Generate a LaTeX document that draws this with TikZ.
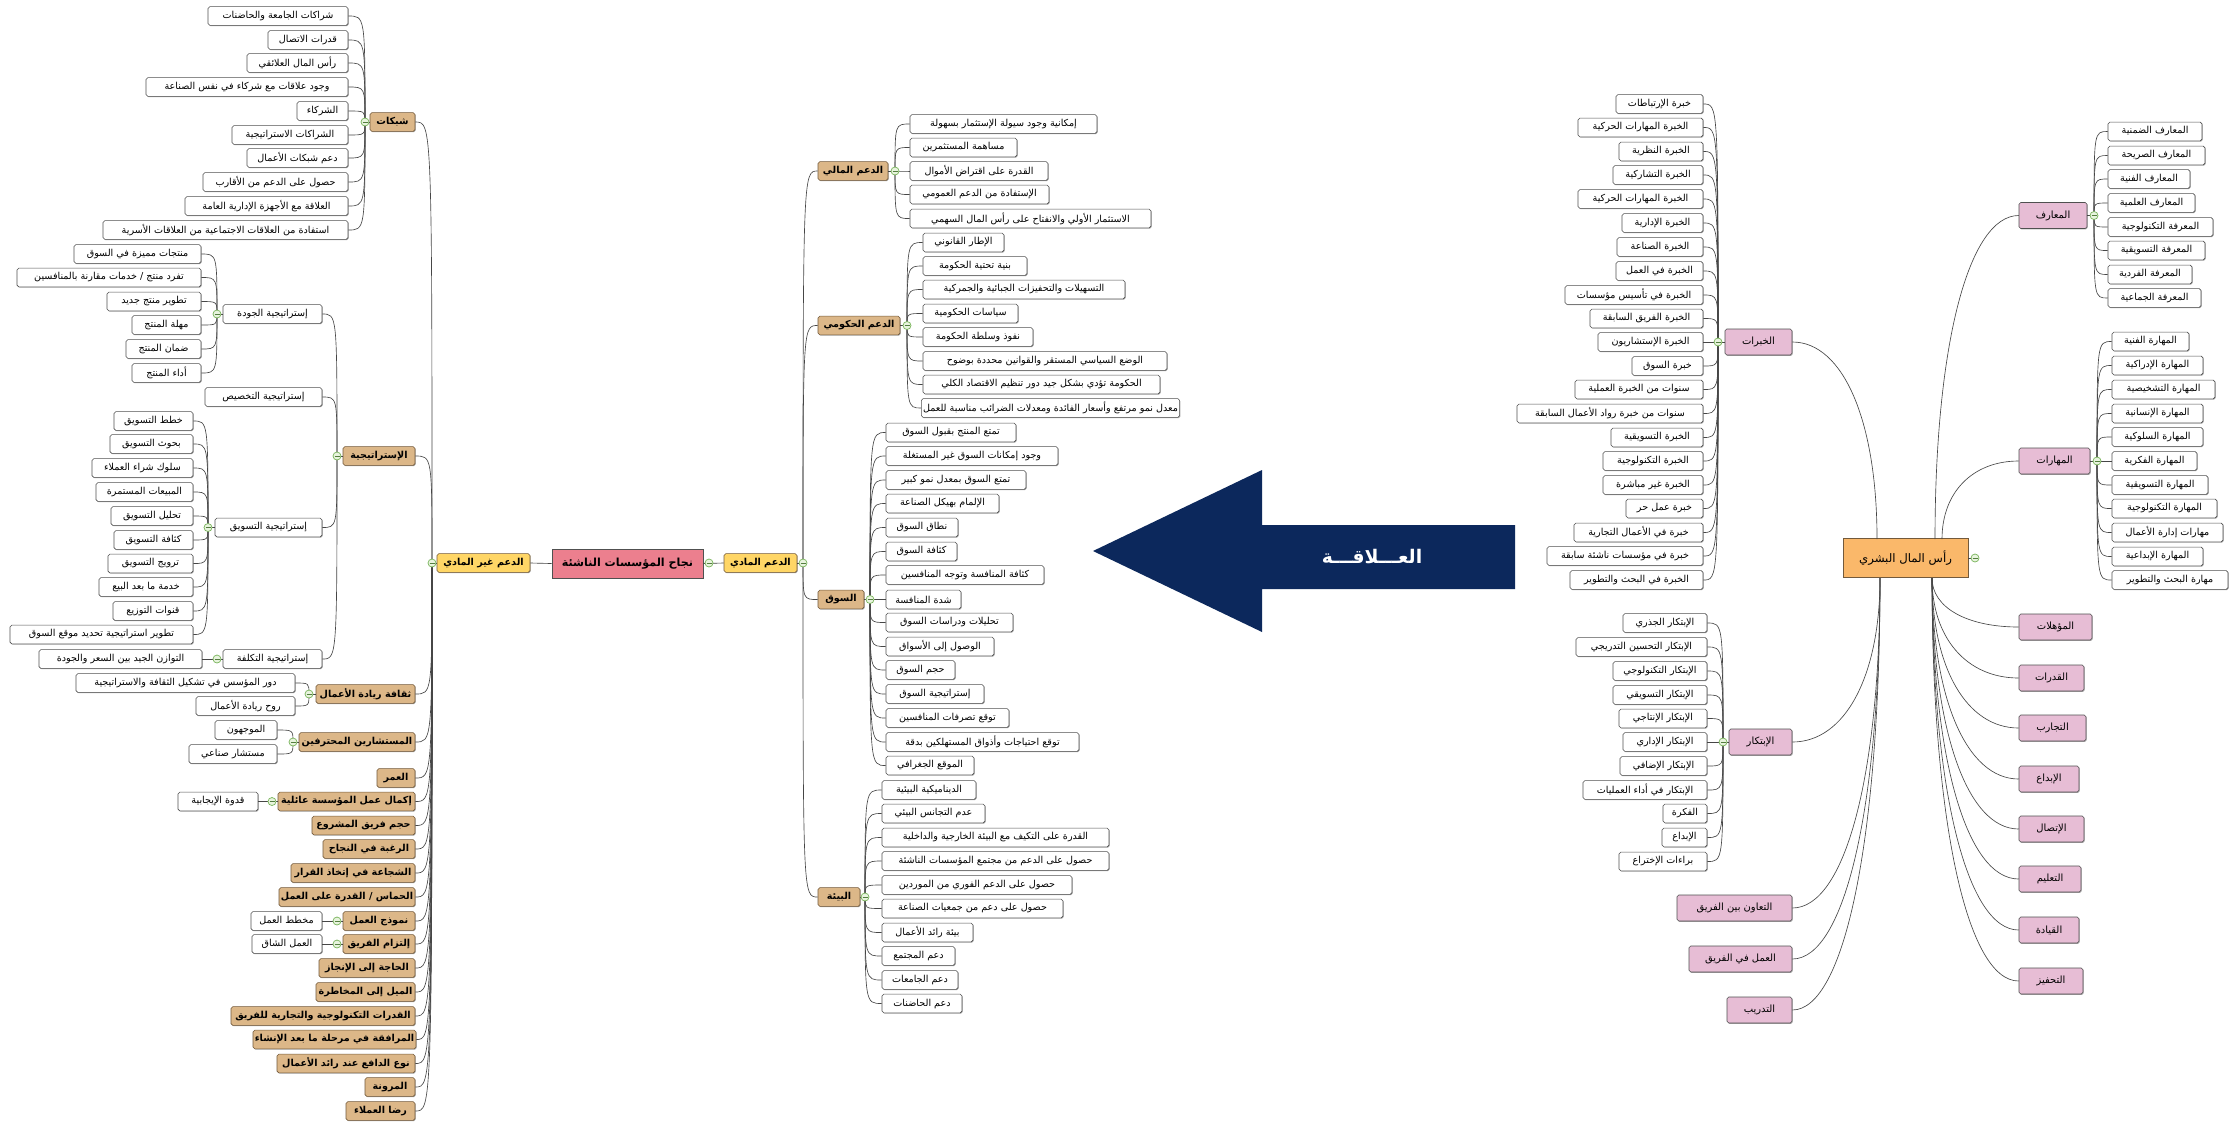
\documentclass[tikz,border=0pt]{standalone}
\usepackage{fontspec}
\usetikzlibrary{shadows,calc}
\TeXXeTstate=1
\newfontfamily\arabicfont[Script=Arabic]{DejaVu Sans}
\definecolor{boxline}{RGB}{80,80,80}
\definecolor{linkgray}{RGB}{70,70,70}
\definecolor{tanfill}{RGB}{220,183,136}
\definecolor{tanline}{RGB}{115,90,60}
\definecolor{yelfill}{RGB}{255,214,102}
\definecolor{rootfill}{RGB}{236,127,142}
\definecolor{pinkfill}{RGB}{231,189,213}
\definecolor{orangefill}{RGB}{250,184,106}
\definecolor{knobgreen}{RGB}{120,180,90}
\definecolor{knobfill}{RGB}{232,244,222}
\definecolor{navy}{RGB}{12,40,92}
\tikzset{
  base/.style={draw=boxline, line width=0.5pt, rounded corners=1.5pt, inner xsep=1.5pt, inner ysep=0pt,
    minimum height=5.6mm, text=black,
    drop shadow={shadow xshift=0.6pt, shadow yshift=-0.7pt, fill=black, opacity=0.35}},
  leaf/.style={base, fill=white, font=\arabicfont\fontsize{8.2}{9}\selectfont},
  tanbox/.style={base, fill=tanfill, draw=tanline, font=\arabicfont\bfseries\fontsize{8.2}{9}\selectfont},
  yelbox/.style={base, fill=yelfill, draw=tanline, font=\arabicfont\bfseries\fontsize{8.2}{9}\selectfont},
  rootbox/.style={base, fill=rootfill, line width=0.8pt, rounded corners=0pt, minimum height=8.7mm,
    font=\arabicfont\bfseries\fontsize{9.5}{11}\selectfont},
  pinkbox/.style={base, fill=pinkfill, minimum height=7.8mm, font=\arabicfont\fontsize{8.5}{9}\selectfont},
  hcbox/.style={base, fill=orangefill, draw=tanline, line width=0.8pt, rounded corners=0pt, minimum height=11.7mm,
    font=\arabicfont\fontsize{10}{12}\selectfont},
  conn/.style={draw=linkgray, line width=0.55pt},
  knob/.style={draw=knobgreen, fill=knobfill, line width=0.6pt},
}
% box: style, name, left edge, right edge, centre y, text
\newcommand\bx[6]{\node[#1, minimum width={(#4-#3)*0.3mm}] (#2) at ({(#3+#4)/2},#5) {#6};}
% link from a junction to the east or west side of a child
\newcommand\lkE[2]{\draw[conn] (#1) .. controls (#1 |- #2.east) .. (#2.east);}
\newcommand\lkW[2]{\draw[conn] (#1) .. controls (#1 |- #2.west) .. (#2.west);}
% smooth branch from the central node
\newcommand\swoop[2]{\draw[conn] (#1) .. controls ($(#1)!0.6!(#1 |- #2)$) and ($(#2)!0.6!(#1 |- #2)$) .. (#2);}
% collapse knob
\newcommand\knob[1]{\draw[knob] (#1) circle[radius=1.2mm]; \draw[knobgreen!70!black, line width=0.5pt] (#1) ++(-2.5,0) -- ++(5,0);}

\begin{document}
\begin{tikzpicture}[x=0.3mm,y=-0.3mm]
\fill[white] (0,0) rectangle (2230,1123);
\useasboundingbox (0,0) rectangle (2230,1123);

% ---------------- centre ----------------
\bx{rootbox}{root}{552}{703}{563.5}{\beginR نجاح المؤسسات الناشئة\endR}
\bx{yelbox}{nm}{437}{530}{563}{\beginR الدعم غير المادي\endR}
\bx{yelbox}{ma}{724}{797}{563}{\beginR الدعم المادي\endR}
\coordinate (jNM) at (432,563);
\coordinate (jRT) at (709,563);
\coordinate (jMA) at (803,563);

% ---------------- non-material support ----------------
\bx{tanbox}{t1}{370}{415}{122}{\beginR شبكات\endR}
\bx{tanbox}{t2}{343}{415}{456}{\beginR الإستراتيجية\endR}
\bx{tanbox}{t3}{316}{415}{694}{\beginR ثقافة ريادة الأعمال\endR}
\bx{tanbox}{t4}{299}{415}{742}{\beginR المستشارين المحترفين\endR}
\bx{tanbox}{t5}{377}{415}{778}{\beginR العمر\endR}
\bx{tanbox}{t6}{278}{415}{801.5}{\beginR إكمال عمل المؤسسة عائلية\endR}
\bx{tanbox}{t7}{312}{415}{825.5}{\beginR حجم فريق المشروع\endR}
\bx{tanbox}{t8}{323}{415}{849}{\beginR الرغبة في النجاح\endR}
\bx{tanbox}{t9}{291}{415}{873}{\beginR الشجاعة في إتخاذ القرار\endR}
\bx{tanbox}{t10}{279}{415}{897}{\beginR الحماس / القدرة على العمل\endR}
\bx{tanbox}{t11}{343}{415}{921}{\beginR نموذج العمل\endR}
\bx{tanbox}{t12}{343}{415}{944}{\beginR إلتزام الفريق\endR}
\bx{tanbox}{t13}{319}{415}{968}{\beginR الحاجة إلى الإنجاز\endR}
\bx{tanbox}{t14}{316}{415}{992}{\beginR الميل إلى المخاطرة\endR}
\bx{tanbox}{t15}{231}{415}{1016}{\beginR القدرات التكنولوجية والتجارية للفريق\endR}
\bx{tanbox}{t16}{254}{415}{1039.5}{\beginR المرافقة في مرحلة ما بعد الإنشاء\endR}
\bx{tanbox}{t17}{277}{415}{1063.5}{\beginR نوع الدافع عند رائد الأعمال\endR}
\bx{tanbox}{t18}{365}{415}{1087}{\beginR المرونة\endR}
\bx{tanbox}{t19}{346}{415}{1111}{\beginR رضا العملاء\endR}

% networks
\coordinate (jT1) at (365,122);
\bx{leaf}{s1}{208}{348}{16}{\beginR شراكات الجامعة والحاضنات\endR}
\bx{leaf}{s2}{268}{348}{40}{\beginR قدرات الاتصال\endR}
\bx{leaf}{s3}{247}{348}{63}{\beginR رأس المال العلائقي\endR}
\bx{leaf}{s4}{146}{348}{87}{\beginR وجود علاقات مع شركاء في نفس الصناعة\endR}
\bx{leaf}{s5}{297}{348}{111}{\beginR الشركاء\endR}
\bx{leaf}{s6}{232}{348}{135}{\beginR الشراكات الاستراتيجية\endR}
\bx{leaf}{s7}{247}{348}{158}{\beginR دعم شبكات الأعمال\endR}
\bx{leaf}{s8}{203}{348}{182}{\beginR حصول على الدعم من الأقارب\endR}
\bx{leaf}{s9}{185}{348}{206}{\beginR العلاقة مع الأجهزة الإدارية العامة\endR}
\bx{leaf}{s10}{103}{348}{230}{\beginR استفادة من العلاقات الاجتماعية من العلاقات الأسرية\endR}

% strategy
\coordinate (jT2) at (337,456);
\bx{leaf}{st1}{223}{322}{314}{\beginR إستراتيجية الجودة\endR}
\bx{leaf}{st2}{205}{322}{397}{\beginR إستراتيجية التخصيص\endR}
\bx{leaf}{st3}{215}{322}{527.5}{\beginR إستراتيجية التسويق\endR}
\bx{leaf}{st4}{223}{322}{659}{\beginR إستراتيجية التكلفة\endR}

\coordinate (jQ) at (217,314);
\bx{leaf}{q1}{74}{201}{254}{\beginR منتجات مميزة في السوق\endR}
\bx{leaf}{q2}{17}{201}{277.5}{\beginR تفرد منتج / خدمات مقارنة بالمنافسين\endR}
\bx{leaf}{q3}{107}{201}{301.5}{\beginR تطوير منتج جديد\endR}
\bx{leaf}{q4}{132}{201}{325}{\beginR مهلة المنتج\endR}
\bx{leaf}{q5}{126}{201}{349}{\beginR ضمان المنتج\endR}
\bx{leaf}{q6}{132}{201}{373}{\beginR أداء المنتج\endR}

\coordinate (jM) at (208,527.5);
\bx{leaf}{m1}{114}{193}{421}{\beginR خطط التسويق\endR}
\bx{leaf}{m2}{110}{193}{444}{\beginR بحوث التسويق\endR}
\bx{leaf}{m3}{92}{193}{468}{\beginR سلوك شراء العملاء\endR}
\bx{leaf}{m4}{96}{193}{492}{\beginR المبيعات المستمرة\endR}
\bx{leaf}{m5}{111}{193}{516}{\beginR تحليل التسويق\endR}
\bx{leaf}{m6}{114}{193}{540}{\beginR كثافة التسويق\endR}
\bx{leaf}{m7}{108}{193}{563.5}{\beginR ترويج التسويق\endR}
\bx{leaf}{m8}{99}{193}{587}{\beginR خدمة ما بعد البيع\endR}
\bx{leaf}{m9}{113}{193}{611}{\beginR قنوات التوزيع\endR}
\bx{leaf}{m10}{10}{193}{634.5}{\beginR تطوير استراتيجية تحديد موقع السوق\endR}

\coordinate (jC) at (217,659);
\bx{leaf}{c1}{39}{202}{659}{\beginR التوازن الجيد بين السعر والجودة\endR}

\coordinate (jT3) at (309,694);
\bx{leaf}{cu1}{76}{295}{683}{\beginR دور المؤسس في تشكيل الثقافة والاستراتيجية\endR}
\bx{leaf}{cu2}{196}{295}{706}{\beginR روح ريادة الأعمال\endR}

\coordinate (jT4) at (293,742);
\bx{leaf}{co1}{215}{277}{730}{\beginR الموجهون\endR}
\bx{leaf}{co2}{189}{277}{754}{\beginR مستشار صناعي\endR}

\coordinate (jT6) at (272,801.5);
\bx{leaf}{f1}{178}{258}{801.5}{\beginR قدوة الإيجابية\endR}

\coordinate (jT11) at (337,921);
\bx{leaf}{mo1}{251}{322}{921}{\beginR مخطط العمل\endR}
\coordinate (jT12) at (337,944);
\bx{leaf}{cm1}{252}{322}{944}{\beginR العمل الشاق\endR}

% ---------------- material support ----------------
\bx{tanbox}{fin}{818}{888}{171}{\beginR الدعم المالي\endR}
\bx{tanbox}{gov}{818}{900}{325.5}{\beginR الدعم الحكومي\endR}
\bx{tanbox}{mkt}{818}{864}{599.5}{\beginR السوق\endR}
\bx{tanbox}{env}{818}{860}{897}{\beginR البيئة\endR}

\coordinate (jFin) at (895,171);
\bx{leaf}{fi1}{910}{1097}{124}{\beginR إمكانية وجود سيولة الإستثمار بسهولة\endR}
\bx{leaf}{fi2}{910}{1017}{147.5}{\beginR مساهمة المستثمرين\endR}
\bx{leaf}{fi3}{910}{1048}{171}{\beginR القدرة على اقتراض الأموال\endR}
\bx{leaf}{fi4}{910}{1049}{194.5}{\beginR الإستفادة من الدعم العمومي\endR}
\bx{leaf}{fi5}{910}{1151}{218.5}{\beginR الاستثمار الأولي والانفتاح على رأس المال السهمي\endR}

\coordinate (jGov) at (907,325.5);
\bx{leaf}{g1}{923}{1004}{242.5}{\beginR الإطار القانوني\endR}
\bx{leaf}{g2}{923}{1027}{266}{\beginR بنية تحتية الحكومة\endR}
\bx{leaf}{g3}{923}{1125}{289.5}{\beginR التسهيلات والتحفيزات الجبائية والجمركية\endR}
\bx{leaf}{g4}{923}{1018}{313.5}{\beginR سياسات الحكومية\endR}
\bx{leaf}{g5}{923}{1033}{337}{\beginR نفوذ وسلطة الحكومة\endR}
\bx{leaf}{g6}{923}{1167}{361}{\beginR الوضع السياسي المستقر والقوانين محددة بوضوح\endR}
\bx{leaf}{g7}{923}{1160}{384.5}{\beginR الحكومة تؤدي بشكل جيد دور تنظيم الاقتصاد الكلي\endR}
\bx{leaf}{g8}{923}{1178}{408}{\beginR معدل نمو مرتفع وأسعار الفائدة ومعدلات الضرائب مناسبة للعمل\endR}

\coordinate (jMkt) at (870,599.5);
\bx{leaf}{k1}{886}{1016}{432.5}{\beginR تمتع المنتج بقبول السوق\endR}
\bx{leaf}{k2}{886}{1058}{456}{\beginR وجود إمكانات السوق غير المستغلة\endR}
\bx{leaf}{k3}{886}{1026}{480}{\beginR تمتع السوق بمعدل نمو كبير\endR}
\bx{leaf}{k4}{886}{999}{503.5}{\beginR الإلمام بهيكل الصناعة\endR}
\bx{leaf}{k5}{886}{958}{527.5}{\beginR نطاق السوق\endR}
\bx{leaf}{k6}{886}{957}{551.5}{\beginR كثافة السوق\endR}
\bx{leaf}{k7}{886}{1044}{575}{\beginR كثافة المنافسة وتوجه المنافسين\endR}
\bx{leaf}{k8}{886}{961}{599.5}{\beginR شدة المنافسة\endR}
\bx{leaf}{k9}{886}{1013}{622.5}{\beginR تحليلات ودراسات السوق\endR}
\bx{leaf}{k10}{886}{994}{646.5}{\beginR الوصول إلى الأسواق\endR}
\bx{leaf}{k11}{886}{955}{670}{\beginR حجم السوق\endR}
\bx{leaf}{k12}{886}{984}{694}{\beginR إستراتيجية السوق\endR}
\bx{leaf}{k13}{886}{1009}{718}{\beginR توقع تصرفات المنافسين\endR}
\bx{leaf}{k14}{886}{1079}{742}{\beginR توقع احتياجات وأذواق المستهلكين بدقة\endR}
\bx{leaf}{k15}{886}{974}{765.5}{\beginR الموقع الجغرافي\endR}

\coordinate (jEnv) at (865,897);
\bx{leaf}{e1}{882}{976}{790}{\beginR الديناميكية البيئية\endR}
\bx{leaf}{e2}{882}{985}{813.5}{\beginR عدم التجانس البيئي\endR}
\bx{leaf}{e3}{882}{1109}{837.5}{\beginR القدرة على التكيف مع البيئة الخارجية والداخلية\endR}
\bx{leaf}{e4}{882}{1109}{861}{\beginR حصول على الدعم من مجتمع المؤسسات الناشئة\endR}
\bx{leaf}{e5}{882}{1072}{885}{\beginR حصول على الدعم الفوري من الموردين\endR}
\bx{leaf}{e6}{882}{1063}{908.5}{\beginR حصول على دعم من جمعيات الصناعة\endR}
\bx{leaf}{e7}{882}{973}{932.5}{\beginR بيئة رائد الأعمال\endR}
\bx{leaf}{e8}{882}{955}{956}{\beginR دعم المجتمع\endR}
\bx{leaf}{e9}{882}{958}{980}{\beginR دعم الجامعات\endR}
\bx{leaf}{e10}{882}{962}{1003.5}{\beginR دعم الحاضنات\endR}

% ---------------- human capital ----------------
\bx{hcbox}{hc}{1843}{1968}{558}{\beginR رأس المال البشري\endR}
\coordinate (jHC) at (1975,558);

\bx{pinkbox}{kh}{1725}{1792}{342}{\beginR الخبرات\endR}
\bx{pinkbox}{ib}{1729}{1792}{742}{\beginR الإبتكار\endR}
\bx{pinkbox}{ta}{1677}{1792}{908}{\beginR التعاون بين الفريق\endR}
\bx{pinkbox}{am}{1689}{1792}{959}{\beginR العمل في الفريق\endR}
\bx{pinkbox}{td}{1727}{1792}{1010}{\beginR التدريب\endR}

\bx{pinkbox}{maa}{2019}{2087}{215.5}{\beginR المعارف\endR}
\bx{pinkbox}{mah}{2019}{2090}{461}{\beginR المهارات\endR}
\bx{pinkbox}{r1}{2019}{2092}{627}{\beginR المؤهلات\endR}
\bx{pinkbox}{r2}{2019}{2084}{678}{\beginR القدرات\endR}
\bx{pinkbox}{r3}{2019}{2086}{728}{\beginR التجارب\endR}
\bx{pinkbox}{r4}{2019}{2079}{779}{\beginR الإبداع\endR}
\bx{pinkbox}{r5}{2019}{2084}{829}{\beginR الإتصال\endR}
\bx{pinkbox}{r6}{2019}{2081}{879}{\beginR التعليم\endR}
\bx{pinkbox}{r7}{2019}{2079}{930}{\beginR القيادة\endR}
\bx{pinkbox}{r8}{2019}{2083}{981}{\beginR التحفيز\endR}

\coordinate (jKh) at (1718,342);
\bx{leaf}{x1}{1616}{1703}{104}{\beginR خبرة الإرتباطات\endR}
\bx{leaf}{x2}{1578}{1703}{127.5}{\beginR الخبرة المهارات الحركية\endR}
\bx{leaf}{x3}{1619}{1703}{151.5}{\beginR الخبرة النظرية\endR}
\bx{leaf}{x4}{1613}{1703}{175}{\beginR الخبرة التشاركية\endR}
\bx{leaf}{x5}{1578}{1703}{199}{\beginR الخبرة المهارات الحركية\endR}
\bx{leaf}{x6}{1622}{1703}{223}{\beginR الخبرة الإدارية\endR}
\bx{leaf}{x7}{1617}{1703}{247}{\beginR الخبرة الصناعة\endR}
\bx{leaf}{x8}{1616}{1703}{271}{\beginR الخبرة في العمل\endR}
\bx{leaf}{x9}{1565}{1703}{295}{\beginR الخبرة في تأسيس مؤسسات\endR}
\bx{leaf}{x10}{1590}{1703}{318.5}{\beginR الخبرة الفريق السابقة\endR}
\bx{leaf}{x11}{1598}{1703}{342}{\beginR الخبرة الإستشاريون\endR}
\bx{leaf}{x12}{1632}{1703}{366}{\beginR خبرة السوق\endR}
\bx{leaf}{x13}{1575}{1703}{389.5}{\beginR سنوات من الخبرة العملية\endR}
\bx{leaf}{x14}{1517}{1703}{413.5}{\beginR سنوات من خبرة رواد الأعمال السابقة\endR}
\bx{leaf}{x15}{1611}{1703}{437.5}{\beginR الخبرة التسويقية\endR}
\bx{leaf}{x16}{1603}{1703}{461}{\beginR الخبرة التكنولوجية\endR}
\bx{leaf}{x17}{1603}{1703}{485}{\beginR الخبرة غير مباشرة\endR}
\bx{leaf}{x18}{1626}{1703}{508.5}{\beginR خبرة عمل حر\endR}
\bx{leaf}{x19}{1574}{1703}{532.5}{\beginR خبرة في الأعمال التجارية\endR}
\bx{leaf}{x20}{1547}{1703}{556}{\beginR خبرة في مؤسسات ناشئة سابقة\endR}
\bx{leaf}{x21}{1570}{1703}{580}{\beginR الخبرة في البحث والتطوير\endR}

\coordinate (jIb) at (1723,742);
\bx{leaf}{y1}{1623}{1707}{623}{\beginR الإبتكار الجذري\endR}
\bx{leaf}{y2}{1576}{1707}{647}{\beginR الإبتكار التحسين التدريجي\endR}
\bx{leaf}{y3}{1613}{1707}{671}{\beginR الإبتكار التكنولوجي\endR}
\bx{leaf}{y4}{1613}{1707}{695}{\beginR الإبتكار التسويقي\endR}
\bx{leaf}{y5}{1619}{1707}{718.5}{\beginR الإبتكار الإنتاجي\endR}
\bx{leaf}{y6}{1623}{1707}{742}{\beginR الإبتكار الإداري\endR}
\bx{leaf}{y7}{1620}{1707}{766}{\beginR الإبتكار الإضافي\endR}
\bx{leaf}{y8}{1583}{1707}{790}{\beginR الإبتكار في أداء العمليات\endR}
\bx{leaf}{y9}{1663}{1707}{813.5}{\beginR الفكرة\endR}
\bx{leaf}{y10}{1662}{1707}{837.5}{\beginR الإبداع\endR}
\bx{leaf}{y11}{1619}{1707}{861.5}{\beginR براءات الإختراع\endR}

\coordinate (jMaa) at (2094,215.5);
\bx{leaf}{a1}{2108}{2202}{131.5}{\beginR المعارف الضمنية\endR}
\bx{leaf}{a2}{2108}{2205}{155.5}{\beginR المعارف الصريحة\endR}
\bx{leaf}{a3}{2108}{2190}{179}{\beginR المعارف الفنية\endR}
\bx{leaf}{a4}{2108}{2195}{203}{\beginR المعارف العلمية\endR}
\bx{leaf}{a5}{2108}{2213}{227}{\beginR المعرفة التكنولوجية\endR}
\bx{leaf}{a6}{2108}{2205}{250.5}{\beginR المعرفة التسويقية\endR}
\bx{leaf}{a7}{2108}{2192}{274.5}{\beginR المعرفة الفردية\endR}
\bx{leaf}{a8}{2108}{2201}{298}{\beginR المعرفة الجماعية\endR}

\coordinate (jMah) at (2097,461);
\bx{leaf}{b1}{2112}{2189}{341.5}{\beginR المهارة الفنية\endR}
\bx{leaf}{b2}{2112}{2203}{365.5}{\beginR المهارة الإدراكية\endR}
\bx{leaf}{b3}{2112}{2215}{389.5}{\beginR المهارة التشخيصية\endR}
\bx{leaf}{b4}{2112}{2203}{413.5}{\beginR المهارة الإنسانية\endR}
\bx{leaf}{b5}{2112}{2203}{437}{\beginR المهارة السلوكية\endR}
\bx{leaf}{b6}{2112}{2197}{461}{\beginR المهارة الفكرية\endR}
\bx{leaf}{b7}{2112}{2208}{485}{\beginR المهارة التسويقية\endR}
\bx{leaf}{b8}{2112}{2217}{508.5}{\beginR المهارة التكنولوجية\endR}
\bx{leaf}{b9}{2112}{2223}{532.5}{\beginR مهارات إدارة الأعمال\endR}
\bx{leaf}{b10}{2112}{2203}{556.5}{\beginR المهارة الإبداعية\endR}
\bx{leaf}{b11}{2112}{2228}{580}{\beginR مهارة البحث والتطوير\endR}

% ---------------- connectors ----------------
\draw[conn] (nm.east) -- (root.west);
\draw[conn] (root.east) -- (ma.west);
\draw[conn] (nm.west) -- (jNM);
\draw[conn] (ma.east) -- (jMA);
\foreach \c in {t1,t2,t3,t4,t5,t6,t7,t8,t9,t10,t11,t12,t13,t14,t15,t16,t17,t18,t19} {\lkE{jNM}{\c}}
\foreach \c in {fin,gov,mkt,env} {\lkW{jMA}{\c}}

\draw[conn] (t1.west) -- (jT1);
\foreach \c in {s1,s2,s3,s4,s5,s6,s7,s8,s9,s10} {\lkE{jT1}{\c}}
\draw[conn] (t2.west) -- (jT2);
\foreach \c in {st1,st2,st3,st4} {\lkE{jT2}{\c}}
\draw[conn] (st1.west) -- (jQ);
\foreach \c in {q1,q2,q3,q4,q5,q6} {\lkE{jQ}{\c}}
\draw[conn] (st3.west) -- (jM);
\foreach \c in {m1,m2,m3,m4,m5,m6,m7,m8,m9,m10} {\lkE{jM}{\c}}
\draw[conn] (st4.west) -- (jC) -- (c1.east);
\draw[conn] (t3.west) -- (jT3);
\foreach \c in {cu1,cu2} {\lkE{jT3}{\c}}
\draw[conn] (t4.west) -- (jT4);
\foreach \c in {co1,co2} {\lkE{jT4}{\c}}
\draw[conn] (t6.west) -- (jT6) -- (f1.east);
\draw[conn] (t11.west) -- (jT11) -- (mo1.east);
\draw[conn] (t12.west) -- (jT12) -- (cm1.east);

\draw[conn] (fin.east) -- (jFin);
\foreach \c in {fi1,fi2,fi3,fi4,fi5} {\lkW{jFin}{\c}}
\draw[conn] (gov.east) -- (jGov);
\foreach \c in {g1,g2,g3,g4,g5,g6,g7,g8} {\lkW{jGov}{\c}}
\draw[conn] (mkt.east) -- (jMkt);
\foreach \c in {k1,k2,k3,k4,k5,k6,k7,k8,k9,k10,k11,k12,k13,k14,k15} {\lkW{jMkt}{\c}}
\draw[conn] (env.east) -- (jEnv);
\foreach \c in {e1,e2,e3,e4,e5,e6,e7,e8,e9,e10} {\lkW{jEnv}{\c}}

\coordinate (hTL) at (1877,539);
\coordinate (hTR) at (1935,539);
\coordinate (hTR2) at (1942,539);
\coordinate (hBL) at (1880,578);
\coordinate (hBR) at (1932,578);
\swoop{hTL}{kh.east}
\swoop{hTR}{maa.west}
\swoop{hTR2}{mah.west}
\foreach \c in {r1,r2,r3,r4,r5,r6,r7,r8} {\swoop{hBR}{\c.west}}
\foreach \c in {ib,ta,am,td} {\swoop{hBL}{\c.east}}
\draw[conn] (hc.east) -- (jHC);

\draw[conn] (kh.west) -- (jKh);
\foreach \c in {x1,x2,x3,x4,x5,x6,x7,x8,x9,x10,x11,x12,x13,x14,x15,x16,x17,x18,x19,x20,x21} {\lkE{jKh}{\c}}
\draw[conn] (ib.west) -- (jIb);
\foreach \c in {y1,y2,y3,y4,y5,y6,y7,y8,y9,y10,y11} {\lkE{jIb}{\c}}
\draw[conn] (maa.east) -- (jMaa);
\foreach \c in {a1,a2,a3,a4,a5,a6,a7,a8} {\lkW{jMaa}{\c}}
\draw[conn] (mah.east) -- (jMah);
\foreach \c in {b1,b2,b3,b4,b5,b6,b7,b8,b9,b10,b11} {\lkW{jMah}{\c}}

% collapse knobs
\foreach \j in {jNM,jRT,jMA,jT1,jT2,jQ,jM,jC,jT3,jT4,jT6,jT11,jT12,jFin,jGov,jMkt,jEnv,jHC,jKh,jIb,jMaa,jMah} {\knob{\j}}

% ---------------- relation arrow ----------------
\fill[navy] (1093,551) -- (1262,470) -- (1262,525) -- (1515,525) -- (1515,589) -- (1262,589) -- (1262,632) -- cycle;
\node[text=white, font=\arabicfont\bfseries\fontsize{16}{18}\selectfont] (rel) at (1372,557) {\beginR العـــلاقـــة\endR};
\end{tikzpicture}
\end{document}
